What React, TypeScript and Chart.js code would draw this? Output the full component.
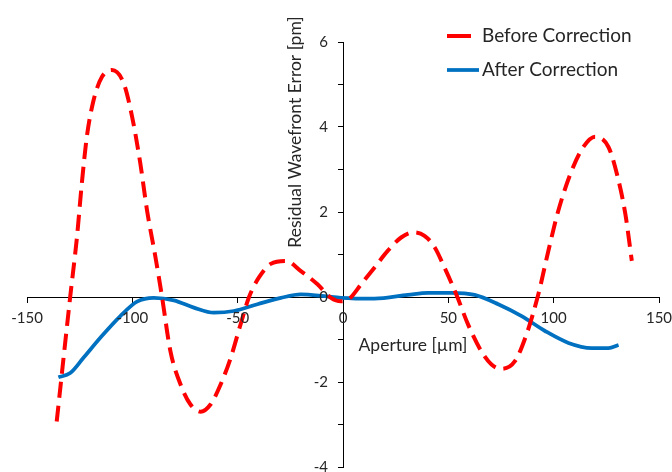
import React, { useEffect, useRef } from "react";
import { Chart, registerables } from "chart.js";

Chart.register(...registerables);

const seriesNames = ["Before Correction", "After Correction"];
const xTitle = "Aperture [µm]";
const yTitle = "Residual Wavefront Error [pm]";

const beforeX = [-135.9, -129.5, -126.3, -124, -121.6, -118.4, -114.4, -109.7, -104.1, -100.1, -96.2, -93, -89, -85.9, -81.9, -77.1, -72.4, -67.6, -62.9, -58.1, -53.3, -48.6, -44.6, -39.9, -34.3, -27.1, -20, -12.1, -5.7, -1, 3, 8.6, 14.9, 21.3, 27.6, 33.2, 38.7, 43.5, 48.2, 53.8, 59.4, 65.7, 70.5, 75.2, 81.6, 87.1, 92.7, 97.5, 102.2, 108.6, 114.1, 119.7, 126, 130, 134, 137.1];
const beforeY = [-2.93, 0, 1.4, 2.66, 3.77, 4.63, 5.18, 5.34, 5.03, 4.24, 3.14, 2.03, 0.93, 0, -1.28, -2.06, -2.53, -2.7, -2.53, -2.06, -1.43, -0.64, 0, 0.46, 0.78, 0.85, 0.61, 0.3, -0.02, -0.1, -0.04, 0.3, 0.69, 1.09, 1.4, 1.52, 1.44, 1.17, 0.69, 0.06, -0.65, -1.28, -1.59, -1.69, -1.51, -0.88, 0.06, 1.09, 2.03, 2.98, 3.53, 3.77, 3.53, 2.9, 1.96, 0.85];

const afterX = [-135.1, -129.5, -123.2, -115.2, -105.7, -97.8, -89.8, -80.3, -70.8, -61.3, -51.8, -40.6, -29.5, -20, -8.9, -1, 14.9, 30.8, 40.3, 51.4, 62.5, 73.7, 84.8, 95.9, 107, 118.1, 126, 130.8];
const afterY = [-1.89, -1.79, -1.43, -0.96, -0.45, -0.11, -0.02, -0.08, -0.25, -0.37, -0.33, -0.17, -0.02, 0.06, 0.02, -0.02, -0.04, 0.05, 0.1, 0.1, 0.05, -0.17, -0.45, -0.8, -1.08, -1.2, -1.2, -1.13];

const xMin = -150;
const xMax = 150;
const xStep = 50;
const yMin = -4;
const yMax = 6;
const yStep = 1;
const xTickLabels = [-150, -100, -50, 0, 50, 100, 150];
const yTickLabels = [-4, -2, 0, 2, 4, 6];

const RED = "#FF0000";
const BLUE = "#0070C0";
const TEXT = "#262626";
const FONT = "Lato, 'Open Sans', sans-serif";

const overlayPlugin = {
  id: "overlay",
  afterDraw(chart: any) {
    const ctx = chart.ctx;
    const xs = chart.scales.x;
    const ys = chart.scales.y;
    ctx.save();
    ctx.font = `15px ${FONT}`;
    ctx.fillStyle = TEXT;
    ctx.textBaseline = "middle";
    // y tick labels (left of the y axis that crosses at x = 0)
    ctx.textAlign = "right";
    const axisX = xs.getPixelForValue(0);
    for (const v of yTickLabels) {
      ctx.fillText(String(v), axisX - 15, ys.getPixelForValue(v));
    }
    // x tick labels (below the x axis that crosses at y = 0)
    ctx.textAlign = "center";
    const axisY = ys.getPixelForValue(0);
    for (const v of xTickLabels) {
      ctx.fillText(String(v), xs.getPixelForValue(v), axisY + 21);
    }
    // legend
    ctx.font = `19px ${FONT}`;
    ctx.textAlign = "left";
    const items = [
      { name: seriesNames[0], color: RED, x1: 447, x2: 471, y: 36, w: 4 },
      { name: seriesNames[1], color: BLUE, x1: 447, x2: 479, y: 70, w: 3.75 },
    ];
    for (const it of items) {
      ctx.strokeStyle = it.color;
      ctx.lineWidth = it.w;
      ctx.beginPath();
      ctx.moveTo(it.x1, it.y);
      ctx.lineTo(it.x2, it.y);
      ctx.stroke();
      ctx.fillText(it.name, 482, it.y);
    }
    // axis titles
    ctx.textAlign = "center";
    ctx.font = `17.5px ${FONT}`;
    ctx.fillText(xTitle, 413, 345);
    ctx.translate(295, 132);
    ctx.rotate(-Math.PI / 2);
    ctx.fillText(yTitle, 0, 0);
    ctx.restore();
  },
};

export default function App() {
  const ref = useRef<HTMLCanvasElement | null>(null);
  useEffect(() => {
    document.body.style.margin = "0";
    const canvas = ref.current!;
    const chart = new Chart(canvas, {
      type: "line",
      data: {
        datasets: [
          {
            label: seriesNames[0],
            data: beforeX.map((x, i) => ({ x, y: beforeY[i] })),
            borderColor: RED,
            borderWidth: 4,
            borderDash: [16, 8],
            pointRadius: 0,
            fill: false,
            cubicInterpolationMode: "monotone",
          },
          {
            label: seriesNames[1],
            data: afterX.map((x, i) => ({ x, y: afterY[i] })),
            borderColor: BLUE,
            borderWidth: 3.75,
            pointRadius: 0,
            fill: false,
            cubicInterpolationMode: "monotone",
          },
        ],
      },
      options: {
        animation: false,
        responsive: false,
        maintainAspectRatio: false,
        layout: { padding: { left: 27, right: 13, top: 42, bottom: 5 } },
        plugins: { legend: { display: false }, tooltip: { enabled: false } },
        scales: {
          x: {
            type: "linear",
            min: xMin,
            max: xMax,
            position: { y: 0 },
            ticks: {
              stepSize: xStep,
              color: "rgba(0,0,0,0)",
              font: { family: FONT, size: 1 },
              padding: 0,
              maxRotation: 0,
              callback: () => "",
            },
            grid: { drawOnChartArea: false, drawTicks: true, tickLength: 5, color: "#000" },
            border: { color: "#000", width: 1 },
          },
          y: {
            type: "linear",
            min: yMin,
            max: yMax,
            position: { x: 0 },
            ticks: {
              stepSize: yStep,
              color: "rgba(0,0,0,0)",
              font: { family: FONT, size: 1 },
              padding: 0,
              callback: () => "",
            },
            grid: { drawOnChartArea: false, drawTicks: true, tickLength: 5, color: "#000" },
            border: { color: "#000", width: 1 },
          },
        },
      },
      plugins: [overlayPlugin],
    });
    return () => chart.destroy();
  }, []);
  return <canvas ref={ref} width={672} height={472} style={{ display: "block" }} />;
}
